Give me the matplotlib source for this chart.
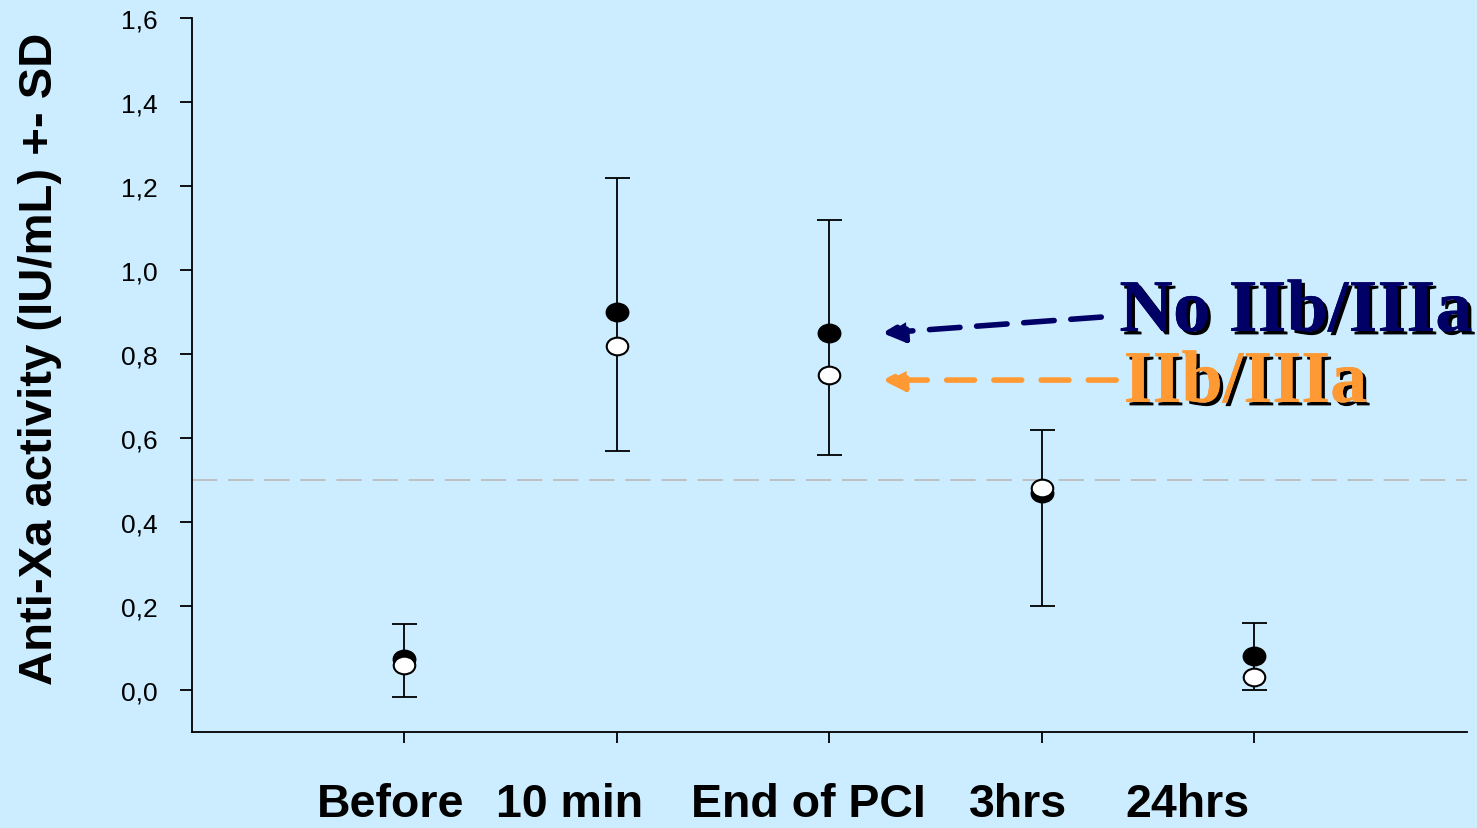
import matplotlib
matplotlib.use("Agg")
import matplotlib.pyplot as plt
import matplotlib.patheffects as pe
from matplotlib.path import Path
from matplotlib.transforms import Affine2D
import numpy as np

# time points
labels = ["Before", "10 min", "End of PCI", "3hrs", "24hrs"]
xpos = [1, 2, 3, 4, 5]

# mean anti-Xa activity (IU/mL)
no_gp = [0.075, 0.90, 0.85, 0.47, 0.08]      # No IIb/IIIa (black dots)
gp = [0.06, 0.82, 0.75, 0.48, 0.03]          # IIb/IIIa (white dots)

# SD bar ends
sd_top = [0.157, 1.22, 1.12, 0.62, 0.16]
sd_bottom = [-0.017, 0.57, 0.56, 0.20, 0.0]

yticks = [0.0, 0.2, 0.4, 0.6, 0.8, 1.0, 1.2, 1.4, 1.6]
threshold = 0.5

bg = "#CCECFF"
navy = "#000066"
orange = "#FF9933"

# slightly flattened dot, as in the slide
ellipse = Path(Affine2D().scale(1.0, 0.82).transform(Path.unit_circle().vertices),
               Path.unit_circle().codes)

fig = plt.figure(figsize=(14.77, 8.29), dpi=100, facecolor=bg)
ax = fig.add_axes([0.130, 0.1158, 0.863, 0.8612])
ax.set_facecolor(bg)

ax.axhline(threshold, color="#BDBDBD", lw=1.3, dashes=(14, 6), zorder=1)

mid = np.array(no_gp)
yerr = [mid - np.array(sd_bottom), np.array(sd_top) - mid]
ax.errorbar(xpos, no_gp, yerr=yerr, fmt="none", ecolor="black",
            elinewidth=1.3, capsize=9, capthick=1.3, zorder=2)

ax.plot(xpos, no_gp, ls="none", marker=ellipse, ms=16, mfc="black", mec="black", mew=1.2, zorder=3)
ax.plot(xpos, gp, ls="none", marker=ellipse, ms=15.5, mfc="white", mec="black", mew=1.5, zorder=4)

ax.set_xlim(0, 6)
ax.set_ylim(-0.1, 1.6)
ax.set_yticks(yticks)
ax.set_yticklabels([f"{v:.1f}".replace(".", ",") for v in yticks],
                   fontsize=19, family=["Liberation Sans", "DejaVu Sans"])
ax.set_xticks(xpos)
ax.set_xticklabels([])
ax.tick_params(axis="y", length=9, width=1.3, pad=16)
ax.tick_params(axis="x", length=8, width=1.3)

for s in ["top", "right"]:
    ax.spines[s].set_visible(False)
for s in ["left", "bottom"]:
    ax.spines[s].set_linewidth(1.3)

fig.text(0.027, 0.567, "Anti-Xa activity (IU/mL) +- SD", rotation=90,
         ha="center", va="center", fontsize=34, fontweight="bold",
         family=["Liberation Sans", "DejaVu Sans"])

# category names sit under the axis, a bit off the ticks as in the slide
label_px = [391, 570, 808, 1018, 1187]
for lab, px in zip(labels, label_px):
    fig.text(px / 1477, 0.003, lab, ha="center", va="bottom", fontsize=33.5,
             fontweight="bold", family=["Liberation Sans", "DejaVu Sans"])

shadow = [pe.withSimplePatchShadow(offset=(2.5, -2.5), shadow_rgbFace="black", alpha=1.0),
          pe.Normal()]

ax.annotate("", xy=(3.25, 0.85), xytext=(4.28, 0.888),
            arrowprops=dict(arrowstyle="-|>,head_length=1.3,head_width=0.65",
                            color=navy, lw=4, linestyle=(0, (5.5, 3)),
                            shrinkA=0, shrinkB=0))
ax.annotate("", xy=(3.25, 0.738), xytext=(4.35, 0.738),
            arrowprops=dict(arrowstyle="-|>,head_length=1.3,head_width=0.65",
                            color=orange, lw=4, linestyle=(0, (5, 3.5)),
                            shrinkA=0, shrinkB=0))

ax.text(4.365, 0.855, "No IIb/IIIa", color=navy, fontsize=53.5, fontweight="bold",
        family=["Liberation Serif", "DejaVu Serif"], va="baseline", ha="left",
        path_effects=shadow)
ax.text(4.385, 0.686, "IIb/IIIa", color=orange, fontsize=53.5, fontweight="bold",
        family=["Liberation Serif", "DejaVu Serif"], va="baseline", ha="left",
        path_effects=shadow)

fig.savefig("out.png", dpi=100, facecolor=bg)
